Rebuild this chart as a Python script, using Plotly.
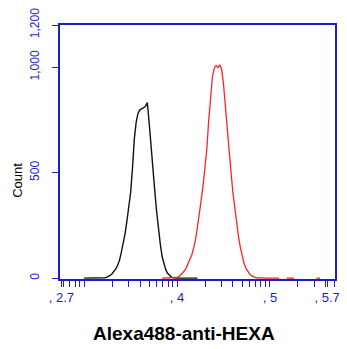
import plotly.graph_objects as go

# Histogram channels (log10 of fluorescence) and counts
black_log = [3.00, 3.02, 3.04, 3.06, 3.08, 3.10, 3.12, 3.14, 3.16, 3.18, 3.20,
             3.22, 3.24, 3.26, 3.28, 3.30, 3.32, 3.34, 3.36, 3.38, 3.40,
             3.42, 3.44, 3.46, 3.48, 3.50, 3.52, 3.54, 3.56, 3.58, 3.60,
             3.62, 3.64, 3.66, 3.68, 3.70, 3.72, 3.74, 3.76, 3.78, 3.80,
             3.82, 3.84, 3.86, 3.88, 3.90, 3.92, 3.94, 3.96, 3.98, 4.00,
             4.02, 4.04, 4.06, 4.08, 4.10, 4.12, 4.14, 4.16, 4.18, 4.20, 4.22]
black_count = [0, 0, 0, 0, 0, 0, 0, 0, 0, 0, 0,
               2, 4, 8, 13, 21, 30, 44, 60, 85, 122,
               165, 210, 270, 335, 405, 520, 660, 740, 782, 798,
               802, 808, 815, 832, 735, 640, 535, 415, 315, 232,
               160, 100, 65, 38, 22, 12, 5, 2, 0, 0,
               0, 0, 0, 0, 0, 0, 0, 0, 0, 0, 0]

red_log = [3.84, 3.86, 3.88, 3.90, 3.92, 3.94, 3.96, 3.98, 4.00,
           4.02, 4.04, 4.06, 4.08, 4.10, 4.12, 4.14, 4.16, 4.18, 4.20,
           4.22, 4.24, 4.26, 4.28, 4.30, 4.32, 4.34, 4.36, 4.38, 4.40,
           4.42, 4.44, 4.46, 4.48, 4.50, 4.52, 4.54, 4.56, 4.58, 4.60,
           4.62, 4.64, 4.66, 4.68, 4.70, 4.72, 4.74, 4.76, 4.78, 4.80,
           4.82, 4.84, 4.86, 4.88, 4.90, 4.92, 4.94, 4.96, 4.98, 5.00,
           5.02, 5.04, 5.06, 5.08, 5.10, 5.14, 5.18, 5.20, 5.22, 5.24,
           5.26, 5.38, 5.50, 5.52, 5.54]
red_count = [0, 0, 0, 0, 0, 0, 0, 0, 3,
             7, 15, 24, 35, 50, 68, 88, 112, 145, 185,
             245, 300, 370, 440, 515, 610, 745, 860, 950, 995,
             1008, 998, 1010, 990, 920, 815, 700, 600, 505, 410,
             330, 262, 200, 148, 105, 72, 48, 30, 20, 12,
             7, 4, 2, 1, 0, 0, 0, 0, 0, 0,
             0, 0, 0, 0, 0, None, 0, 0, 0, 0,
             0, None, 0, 0, 0]

x_tick_vals = [2.755, 4, 5, 5.615]
x_tick_text = [", 2.7", ", 4", ", 5", ", 5.7"]
x_minor_vals = [2.778, 2.845, 2.903, 2.954, 3.301, 3.477, 3.602, 3.699, 3.778,
                3.845, 3.903, 3.954, 4.301, 4.477, 4.602, 4.699, 4.778, 4.845,
                4.903, 4.954, 5.301, 5.477, 5.602, 5.69, 3.0]
y_tick_vals = [0, 500, 1000, 1200]
y_tick_text = ["0", "500", "1,000", "1,200"]

BLUE = "#1c1cd0"

fig = go.Figure()
fig.add_trace(go.Scatter(x=[10 ** v for v in black_log], y=black_count, mode="lines",
                         line=dict(color="#111111", width=1.4), showlegend=False))
fig.add_trace(go.Scatter(x=[10 ** v for v in red_log], y=red_count, mode="lines",
                         line=dict(color="#ff2222", width=1.3), showlegend=False,
                         connectgaps=False))

# The page body has an 8px default margin, so the figure is sized and
# offset to place the plot area where the reference has it.
fig.update_layout(
    width=339, height=341,
    margin=dict(l=52, r=12, t=17, b=70, autoexpand=False),
    paper_bgcolor="white", plot_bgcolor="white",
    font=dict(family="Liberation Sans, Arial, sans-serif"),
    xaxis=dict(type="log", range=[2.74, 5.70], automargin=False,
               tickvals=[10 ** v for v in x_tick_vals], ticktext=x_tick_text,
               ticklabeloverflow="allow",
               ticks="outside", ticklen=6, tickwidth=1.3, tickcolor=BLUE,
               tickfont=dict(size=13, color=BLUE),
               minor=dict(tickmode="array", tickvals=[10 ** v for v in x_minor_vals],
                          ticks="outside", ticklen=6, tickwidth=1.3, tickcolor=BLUE,
                          showgrid=False),
               showline=True, linecolor=BLUE, linewidth=1.5, mirror=True,
               showgrid=False, zeroline=False, layer="below traces"),
    yaxis=dict(range=[-4, 1200], tickvals=y_tick_vals, ticktext=y_tick_text,
               automargin=False, ticklabeloverflow="allow",
               ticks="outside", ticklen=6, tickwidth=1.3, tickcolor=BLUE,
               tickfont=dict(size=12, color=BLUE), tickangle=-90,
               ticklabelstandoff=8,
               showline=True, linecolor=BLUE, linewidth=1.5, mirror=True,
               showgrid=False, zeroline=False, layer="below traces"),
    annotations=[
        dict(text="<b>Alexa488-anti-HEXA</b>", xref="paper", yref="paper",
             x=0.451, y=-0.213, xanchor="center", yanchor="middle", showarrow=False,
             font=dict(size=19, color="black", family="Liberation Sans, Arial, sans-serif")),
        dict(text="Count", xref="paper", yref="paper", x=-0.153, y=0.39,
             xanchor="center", yanchor="middle", textangle=-90, showarrow=False,
             font=dict(size=13, color="black", family="Liberation Sans, Arial, sans-serif")),
    ],
)

fig.write_html("out.html")
